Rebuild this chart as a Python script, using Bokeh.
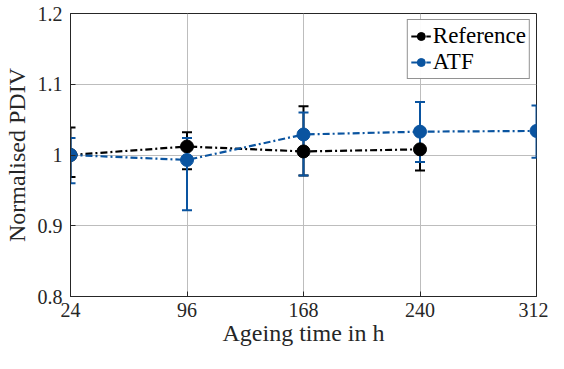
from bokeh.plotting import figure
from bokeh.models import ColumnDataSource, Whisker, TeeHead, FixedTicker, Legend, LegendItem, Range1d
from bokeh.embed import file_html
from bokeh.resources import INLINE

hours = [24, 96, 168, 240, 312]
ref_hours = [24, 96, 168, 240]
ref_mean = [1.000, 1.012, 1.005, 1.008]
ref_lo = [0.969, 0.980, 0.971, 0.978]
ref_hi = [1.039, 1.032, 1.069, 1.036]
atf_mean = [1.000, 0.993, 1.029, 1.033, 1.034]
atf_lo = [0.960, 0.922, 0.971, 0.990, 0.996]
atf_hi = [1.024, 1.024, 1.060, 1.075, 1.070]
y_ticks = [0.8, 0.9, 1.0, 1.1, 1.2]

BLUE = "#0a54a0"
AXC = "#262626"
FONT = "Liberation Serif"

p = figure(width=548, height=353, output_backend="svg", toolbar_location=None,
           x_range=Range1d(24, 312), y_range=Range1d(0.8, 1.2),
           min_border_left=69, min_border_right=12, min_border_top=13, min_border_bottom=57)

p.outline_line_color = AXC
p.outline_line_width = 1
p.xgrid.grid_line_color = "#bdbdbd"
p.ygrid.grid_line_color = "#bdbdbd"
p.xaxis.ticker = FixedTicker(ticks=hours)
p.yaxis.ticker = FixedTicker(ticks=y_ticks)
p.yaxis.major_label_overrides = {0.8: "0.8", 0.9: "0.9", 1.0: "1", 1.1: "1.1", 1.2: "1.2"}
for ax in (p.xaxis[0], p.yaxis[0]):
    ax.major_tick_in = 5
    ax.major_tick_out = 0
    ax.minor_tick_line_color = None
    ax.axis_line_color = AXC
    ax.major_tick_line_color = AXC
    ax.major_label_text_font = FONT
    ax.major_label_text_font_size = "20px"
    ax.major_label_text_color = AXC
    ax.axis_label_text_font = FONT
    ax.axis_label_text_font_size = "24px"
    ax.axis_label_text_font_style = "normal"
    ax.axis_label_text_color = AXC
p.xaxis.axis_label = "Ageing time in h"
p.yaxis.axis_label = "Normalised PDIV"
p.xaxis.major_label_standoff = 6
p.yaxis.major_label_standoff = 8
p.xaxis.axis_label_standoff = 0
p.yaxis.axis_label_standoff = 5

ref_src = ColumnDataSource(dict(x=ref_hours, y=ref_mean, lo=ref_lo, hi=ref_hi))
atf_src = ColumnDataSource(dict(x=hours, y=atf_mean, lo=atf_lo, hi=atf_hi))

for src, col in ((ref_src, "black"), (atf_src, BLUE)):
    w = Whisker(source=src, base="x", lower="lo", upper="hi", line_color=col, line_width=2,
                upper_head=TeeHead(size=10, line_color=col, line_width=2),
                lower_head=TeeHead(size=10, line_color=col, line_width=2))
    p.add_layout(w)

r_line = p.line("x", "y", source=ref_src, line_color="black", line_width=2.2, line_dash="7 3 2 3")
r_pts = p.scatter("x", "y", source=ref_src, size=13, fill_color="black", line_color="black")
a_line = p.line("x", "y", source=atf_src, line_color=BLUE, line_width=2.2, line_dash="7 3 2 3")
a_pts = p.scatter("x", "y", source=atf_src, size=13, fill_color=BLUE, line_color=BLUE)

leg = Legend(items=[LegendItem(label="Reference", renderers=[r_line, r_pts]),
                    LegendItem(label="ATF", renderers=[a_line, a_pts])],
             location="top_right")
leg.label_text_font = FONT
leg.label_text_font_size = "23px"
leg.label_text_color = "black"
leg.border_line_color = AXC
leg.border_line_width = 1
leg.margin = 6
leg.padding = 3
leg.spacing = 0
leg.glyph_width = 20
leg.label_standoff = 2
leg.label_height = 24
leg.glyph_height = 24
p.add_layout(leg)

open("out.html", "w").write(file_html(p, INLINE))
